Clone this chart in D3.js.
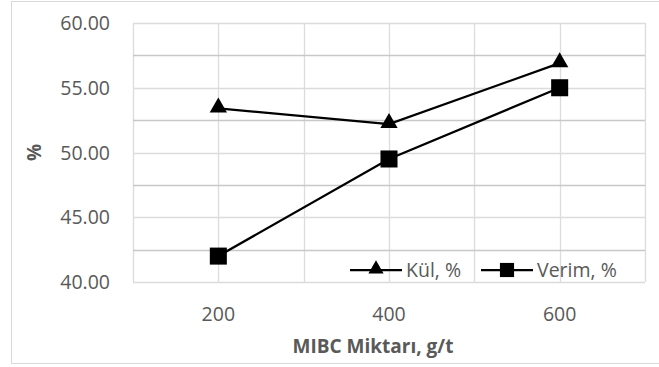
<!DOCTYPE html>
<html>
<head>
<meta charset="utf-8">
<script src="https://cdn.jsdelivr.net/npm/d3@7"></script>
<style>
  body { margin: 0; background: #fff; }
  svg { font-family: "Open Sans", "Liberation Sans", sans-serif; }
</style>
</head>
<body>
<div id="chart"></div>
<script>
// data
const doses = ["200", "400", "600"];
const kul = [53.4, 52.2, 56.9];
const verim = [42.0, 49.5, 55.0];
const seriesNames = ["Kül, %", "Verim, %"];
const yTicks = [40, 45, 50, 55, 60];

const width = 659, height = 367;
const plot = { left: 133, right: 645, top: 23, bottom: 282 };

const svg = d3.select("#chart").append("svg")
  .attr("width", width)
  .attr("height", height);

// chart border
svg.append("rect")
  .attr("x", 11.5).attr("y", 1.5)
  .attr("width", 660).attr("height", 362)
  .attr("fill", "none")
  .attr("stroke", "#d9d9d9");

const x = d3.scaleBand().domain(doses).range([plot.left, plot.right]);
const y = d3.scaleLinear().domain([40, 60]).range([plot.bottom, plot.top]);

// vertical gridlines: band edges and band centres
const vx = [];
doses.forEach(d => { vx.push(x(d)); vx.push(x(d) + x.bandwidth() / 2); });
vx.push(plot.right);
svg.append("g").selectAll("line")
  .data(vx)
  .enter().append("line")
  .attr("x1", d => Math.round(d) + 0.5).attr("x2", d => Math.round(d) + 0.5)
  .attr("y1", plot.top).attr("y2", plot.bottom)
  .attr("stroke", "#dcdcdc")
  .attr("stroke-width", 1.3);

// horizontal gridlines every 2.5
const hy = d3.range(40, 60.01, 2.5);
svg.append("g").selectAll("line")
  .data(hy)
  .enter().append("line")
  .attr("x1", plot.left).attr("x2", plot.right)
  .attr("y1", d => Math.round(y(d)) + 0.5).attr("y2", d => Math.round(y(d)) + 0.5)
  .attr("stroke", d => (d % 5 === 0 ? "#dcdcdc" : "#c8c8c8"))
  .attr("stroke-width", 1.3);

// y tick labels
svg.append("g").selectAll("text")
  .data(yTicks)
  .enter().append("text")
  .attr("x", 110)
  .attr("y", d => y(d))
  .attr("dy", "0.36em")
  .attr("text-anchor", "end")
  .attr("fill", "#595959")
  .style("font-size", "19.5px")
  .text(d => d.toFixed(2));

// x tick labels
svg.append("g").selectAll("text")
  .data(doses)
  .enter().append("text")
  .attr("x", d => x(d) + x.bandwidth() / 2)
  .attr("y", 314)
  .attr("dy", "0.36em")
  .attr("text-anchor", "middle")
  .attr("fill", "#595959")
  .style("font-size", "19.5px")
  .text(d => d);

// axis titles
svg.append("text")
  .attr("x", 373)
  .attr("y", 346)
  .attr("dy", "0.36em")
  .attr("text-anchor", "middle")
  .attr("fill", "#595959")
  .style("font-size", "19px")
  .style("font-weight", "bold")
  .text("MIBC Miktarı, g/t");

svg.append("text")
  .attr("transform", "translate(34," + ((plot.top + plot.bottom) / 2) + ") rotate(-90)")
  .attr("dy", "0.36em")
  .attr("text-anchor", "middle")
  .attr("fill", "#595959")
  .style("font-size", "19px")
  .style("font-weight", "bold")
  .text("%");

const cx = d => x(d) + x.bandwidth() / 2;
const line = d3.line()
  .x(d => cx(d.dose))
  .y(d => y(d.v));

const triangle = d3.symbol().type(d3.symbolTriangle).size(130);
const square = d3.symbol().type(d3.symbolSquare).size(290);

const series = [
  { name: seriesNames[0], vals: kul, sym: triangle, dy: -1 },
  { name: seriesNames[1], vals: verim, sym: square, dy: 0 }
];

series.forEach(s => {
  const pts = doses.map((d, i) => ({ dose: d, v: s.vals[i] }));
  svg.append("path")
    .datum(pts)
    .attr("d", line)
    .attr("fill", "none")
    .attr("stroke", "#000")
    .attr("stroke-width", 2.25);
  svg.append("g").selectAll("path")
    .data(pts)
    .enter().append("path")
    .attr("d", s.sym)
    .attr("transform", d => "translate(" + cx(d.dose) + "," + (y(d.v) + s.dy) + ")")
    .attr("fill", "#000");
});

// legend
const legendSym = [
  { x: 350, type: d3.symbolTriangle, dy: -1, size: 100 },
  { x: 481, type: d3.symbolSquare, dy: 0, size: 200 }
];
const ly = 270;
legendSym.forEach((l, i) => {
  svg.append("line")
    .attr("x1", l.x).attr("x2", l.x + 52)
    .attr("y1", ly).attr("y2", ly)
    .attr("stroke", "#000").attr("stroke-width", 2.25);
  svg.append("path")
    .attr("d", d3.symbol().type(l.type).size(l.size)())
    .attr("transform", "translate(" + (l.x + 26) + "," + (ly + l.dy) + ")")
    .attr("fill", "#000");
  svg.append("text")
    .attr("x", l.x + 56)
    .attr("y", ly)
    .attr("dy", "0.36em")
    .attr("fill", "#595959")
    .style("font-size", "19.5px")
    .text(seriesNames[i]);
});
</script>
</body>
</html>
